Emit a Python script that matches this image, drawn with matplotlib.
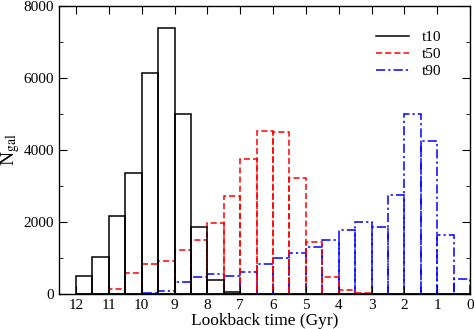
import numpy as np
import matplotlib
matplotlib.use('Agg')
import matplotlib.pyplot as plt
from matplotlib.ticker import MultipleLocator
from matplotlib.lines import Line2D

# bin left edges (Gyr), width 0.5
edges = np.arange(0, 12.0, 0.5)
# counts per bin, from 0-0.5 up to 11.5-12 Gyr
t10 = [0, 0, 0, 0, 0, 0, 0, 0, 0, 0, 0, 0, 0, 10, 50, 390, 1860,
       4990, 7400, 6130, 3350, 2180, 1020, 510]
t50 = [0, 0, 0, 0, 0, 0, 37, 120, 460, 1450, 3210, 4500, 4540, 3740,
       2710, 1980, 1510, 1220, 910, 820, 570, 130, 0, 0]
t90 = [410, 1630, 4250, 4990, 2760, 1870, 2000, 1780, 1500, 1300, 1140,
       990, 820, 610, 500, 555, 470, 330, 90, 18, 0, 0, 0, 0]

plt.rcParams['font.family'] = ['Liberation Serif', 'DejaVu Serif']
plt.rcParams['mathtext.fontset'] = 'stix'

fig = plt.figure(figsize=(4.74, 3.29), dpi=100)
ax = fig.add_axes([0.1245, 0.1064, 0.8671, 0.8754])

w = 0.5
dash = (0, (4, 2))
dashdot = (0, (6, 2, 1.5, 2))
ax.bar(edges, t90, width=w, align='edge', fill=False,
       edgecolor='blue', linestyle=dashdot, linewidth=1.1)
ax.bar(edges, t50, width=w, align='edge', fill=False,
       edgecolor='red', linestyle=dash, linewidth=1.1)
ax.bar(edges, t10, width=w, align='edge', fill=False,
       edgecolor='black', linestyle='-', linewidth=1.1)

ax.set_xlim(12.52, 0)
ax.set_ylim(0, 8000)
ax.xaxis.set_major_locator(MultipleLocator(1))
ax.yaxis.set_major_locator(MultipleLocator(2000))
ax.yaxis.set_minor_locator(MultipleLocator(1000))
ax.tick_params(which='both', direction='in', top=True, right=True, labelsize=11)
ax.tick_params(which='major', length=6, pad=3.5)
ax.tick_params(which='minor', length=3)
for s in ax.spines.values():
    s.set_linewidth(1.0)

ax.set_xlabel('Lookback time (Gyr)', fontsize=12.5, labelpad=0.5)
ax.set_ylabel(r'N$_{\rm gal}$', fontsize=14, labelpad=1)

handles = [Line2D([], [], color='black', lw=1.1),
           Line2D([], [], color='red', lw=1.1, linestyle=dash),
           Line2D([], [], color='blue', lw=1.1, linestyle=dashdot)]
ax.legend(handles, ['t10', 't50', 't90'], loc='upper right', frameon=False,
          fontsize=11, handlelength=2.15, handletextpad=0.85,
          borderpad=0, borderaxespad=0,
          bbox_to_anchor=(0.93, 0.915), labelspacing=0.22)

fig.savefig('out.png', dpi=100)
